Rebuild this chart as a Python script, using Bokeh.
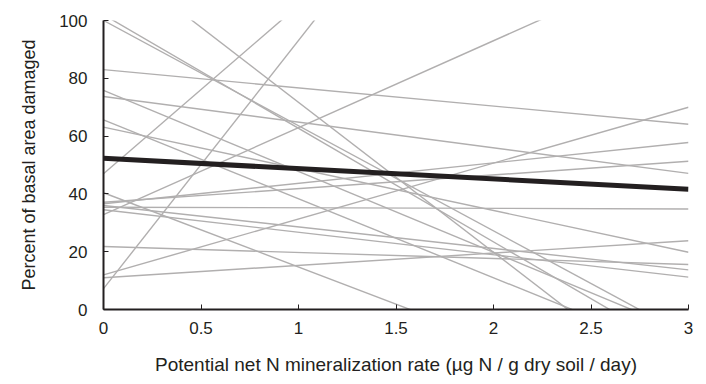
from bokeh.plotting import figure
from bokeh.models import Range1d, FixedTicker
from bokeh.embed import file_html
from bokeh.resources import INLINE

# Individual (gray) regression lines: value at x=0 and slope per unit x
gray_intercepts = [102.0, 100.0, 123.6, 83.0, 75.8, 73.7, 65.6, 63.1, 47.0, 40.4,
                   37.1, 36.6, 36.0, 35.4, 34.5, 32.8, 21.8, 12.0, 11.0, 7.2]
gray_slopes = [-39.3, -36.4, -51.9, -6.3, -28.0, -8.87, -27.3, -14.43, 58.2, -25.7,
               4.73, 7.07, -7.43, -0.2, -7.77, 30.1, -2.07, 19.33, 4.27, 85.9]

# Overall (black) regression line
mean_intercept = 52.3
mean_slope = -3.55

x_start, x_end = 0.0, 3.0
x_ticks = [0, 0.5, 1, 1.5, 2, 2.5, 3]
x_tick_labels = {0: "0", 0.5: "0.5", 1: "1", 1.5: "1.5", 2: "2", 2.5: "2.5", 3: "3"}
y_ticks = [0, 20, 40, 60, 80, 100]

FONT = "Liberation Sans"

p = figure(width=698, height=382, output_backend="svg", toolbar_location=None,
           x_range=Range1d(0, 3), y_range=Range1d(0, 100),
           min_border_left=103, min_border_right=10, min_border_top=20, min_border_bottom=73)
p.outline_line_color = None
p.grid.visible = False
p.background_fill_color = "white"

xs = [[x_start, x_end] for _ in gray_intercepts]
ys = [[b + m * x_start, b + m * x_end] for b, m in zip(gray_intercepts, gray_slopes)]
p.multi_line(xs, ys, line_color="#b1afaf", line_width=1.4)

p.line([x_start, x_end], [mean_intercept + mean_slope * x_start, mean_intercept + mean_slope * x_end],
       line_color="#231f20", line_width=5)

for ax in (p.xaxis[0], p.yaxis[0]):
    ax.axis_line_color = "#231f20"
    ax.axis_line_width = 2
    ax.major_tick_line_color = "#231f20"
    ax.major_tick_line_width = 1
    ax.major_tick_in = 5
    ax.major_tick_out = 0
    ax.minor_tick_line_color = None
    ax.major_label_text_font = FONT
    ax.major_label_text_font_size = "17px"
    ax.major_label_text_color = "#231f20"
    ax.axis_label_text_font = FONT
    ax.axis_label_text_font_style = "normal"
    ax.axis_label_text_color = "#231f20"

p.xaxis.axis_label_text_font_size = "19px"
p.yaxis.axis_label_text_font_size = "18px"
p.xaxis.ticker = FixedTicker(ticks=x_ticks)
p.xaxis.major_label_overrides = x_tick_labels
p.yaxis.ticker = FixedTicker(ticks=y_ticks)
p.xaxis.axis_label = "Potential net N mineralization rate (µg N / g dry soil / day)"
p.yaxis.axis_label = "Percent of basal area damaged"
p.xaxis.major_label_standoff = 12
p.yaxis.major_label_standoff = 16
p.xaxis.axis_label_standoff = 17
p.yaxis.axis_label_standoff = 17

open("out.html", "w").write(file_html(p, INLINE))
